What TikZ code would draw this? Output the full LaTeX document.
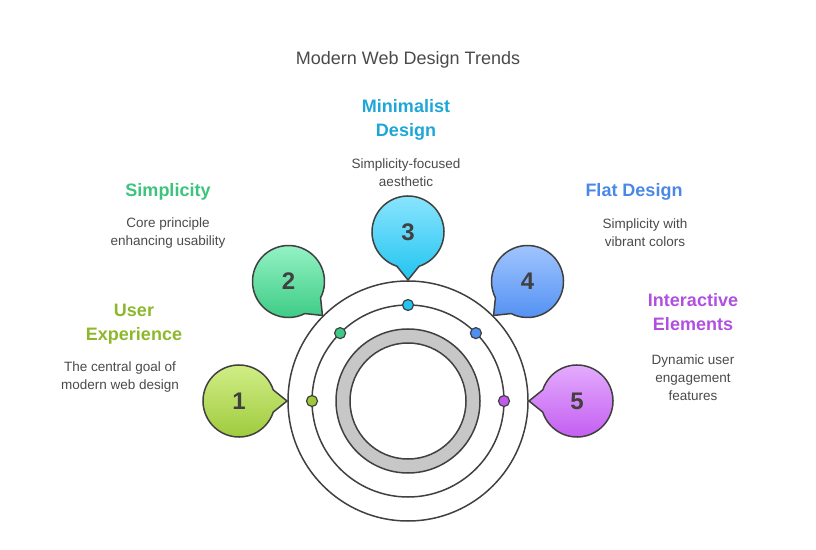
\documentclass[tikz,border=0pt]{standalone}
\usepackage{fontspec}
\setmainfont{Liberation Sans}
\usetikzlibrary{calc}
\definecolor{edge}{HTML}{404040}
\definecolor{txt}{HTML}{4A4A4A}
\definecolor{cA}{HTML}{9CC83A}\definecolor{lA}{HTML}{D4F08A}\definecolor{tA}{HTML}{8DB82C}
\definecolor{cB}{HTML}{3CCB85}\definecolor{lB}{HTML}{9AF5C8}\definecolor{tB}{HTML}{3CC47C}
\definecolor{cC}{HTML}{22C4F0}\definecolor{lC}{HTML}{8FE6FF}\definecolor{tC}{HTML}{1FA6D8}
\definecolor{cD}{HTML}{4F8EF2}\definecolor{lD}{HTML}{A5C8FF}\definecolor{tD}{HTML}{4A88E6}
\definecolor{cE}{HTML}{C25AF0}\definecolor{lE}{HTML}{E6B0FF}\definecolor{tE}{HTML}{B050E0}
\tikzset{
  head/.style={font=\bfseries\fontsize{18}{24}\selectfont, align=center},
  desc/.style={font=\fontsize{13.5}{18}\selectfont, text=txt, align=center},
  num/.style={font=\bfseries\fontsize{24}{24}\selectfont, text=edge},
  dot/.style={circle, draw=edge, line width=1.2pt, minimum size=11pt, inner sep=0pt}
}
\begin{document}
\begin{tikzpicture}[x=1pt,y=1pt]
\useasboundingbox (0,0) rectangle (816,549);
\coordinate (C) at (408,148);
\node[font=\fontsize{18}{20}\selectfont, text=txt] (title) at (408,489) {Modern Web Design Trends};
% rings
\draw[edge, line width=1.5pt] (C) circle (120);
\draw[edge, line width=1.5pt] (C) circle (96);
\draw[edge, line width=1.5pt, fill=black!22, even odd rule] (C) circle (72) (C) circle (58);
% bubbles
\foreach \a/\c/\l/\n in {180/cA/lA/1, 135/cB/lB/2, 90/cC/lC/3, 45/cD/lD/4, 0/cE/lE/5}{
  \coordinate (b\n) at ($(C)+(\a:169)$);
  \draw[edge, line width=1.5pt, top color=\l, bottom color=\c]
    ($(b\n)+(\a+198:36)$) arc[start angle=\a+198, end angle=\a+522, radius=36]
    -- ($(b\n)+(\a+180:48)$) -- cycle;
  \node[num] (n\n) at (b\n) {\n};
  \node[dot, fill=\c] (d\n) at ($(C)+(\a:96)$) {};
}
% labels
\node[head, text=tA] (h1) at (134,225) {User\\Experience};
\node[desc] (t1) at (120,172) {The central goal of\\modern web design};
\node[head, text=tB] (h2) at (168,357) {Simplicity};
\node[desc] (t2) at (168,316) {Core principle\\enhancing usability};
\node[head, text=tC] (h3) at (406,429) {Minimalist\\Design};
\node[desc] (t3) at (406,376) {Simplicity-focused\\aesthetic};
\node[head, text=tD] (h4) at (634,357) {Flat Design};
\node[desc] (t4) at (645,316) {Simplicity with\\vibrant colors};
\node[head, text=tE] (h5) at (693,237) {Interactive\\Elements};
\node[desc] (t5) at (693,171) {Dynamic user\\engagement\\features};
\end{tikzpicture}
\end{document}
